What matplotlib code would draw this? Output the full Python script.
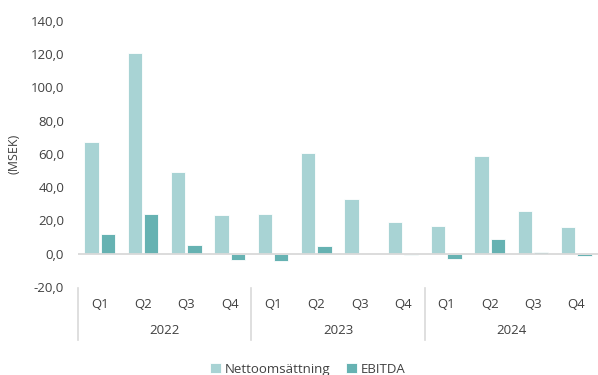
import matplotlib.pyplot as plt
import matplotlib.ticker as mticker
import numpy as np

years = ["2022", "2023", "2024"]
quarters = ["Q1", "Q2", "Q3", "Q4"]
nettoomsattning = [67.3, 120.7, 49.1, 23.2, 23.8, 60.8, 32.8, 19.0, 16.8, 58.9, 26.0, 15.8]
ebitda = [12.0, 23.8, 5.2, -3.6, -4.2, 4.8, 0.0, -0.6, -3.2, 9.0, 1.2, -1.6]

plt.rcParams['font.family'] = ['Open Sans', 'DejaVu Sans']
text_color = '#404040'
light = '#a8d3d4'
dark = '#66b2b2'

fig = plt.figure(figsize=(5.98, 3.75), dpi=100)
ax = fig.add_axes([0.1304, 0.2347, 0.8696, 0.7093])

n = len(nettoomsattning)
x = np.arange(n)
w = 0.33
ax.bar(x - 0.19, nettoomsattning, w, color=light, edgecolor='white', linewidth=0.6,
       label='Nettoomsättning', zorder=2)
ax.bar(x + 0.19, ebitda, w, color=dark, edgecolor='white', linewidth=0.6,
       label='EBITDA', zorder=2)
ax.axhline(0, color='#d9d9d9', lw=1.3, zorder=3)

ax.set_xlim(-0.5, n - 0.5)
ax.set_ylim(-20, 140)
ax.yaxis.set_major_locator(mticker.MultipleLocator(20))
ax.yaxis.set_major_formatter(mticker.FuncFormatter(lambda v, p: f"{v:.1f}".replace('.', ',')))
ax.tick_params(axis='y', length=0, pad=10, labelsize=9.5, labelcolor=text_color)
for s in ax.spines.values():
    s.set_visible(False)

# quarter labels under each group, year below, separators between years
ax.set_xticks(x)
ax.set_xticklabels(quarters * len(years))
ax.tick_params(axis='x', length=0, pad=8, labelsize=9.5, labelcolor=text_color)
trans = ax.get_xaxis_transform()
for i, yr in enumerate(years):
    ax.text(i * 4 + 1.5, -0.165, yr, transform=trans, ha='center', va='center',
            fontsize=9.5, color=text_color)
for b in range(len(years)):
    ax.plot([b * 4 - 0.5, b * 4 - 0.5], [-0.004, -0.2], transform=trans,
            color='#d9d9d9', lw=1.2, clip_on=False)

ax.set_ylabel('(MSEK)', fontsize=9, color=text_color)
ax.yaxis.set_label_coords(-0.11, 0.5)

fig.legend(loc='center', bbox_to_anchor=(0.515, 0.015), ncol=2, frameon=False,
           fontsize=9.5, handlelength=0.8, handleheight=0.8, handletextpad=0.3,
           columnspacing=1.2, labelcolor=text_color)

fig.savefig('out.png', dpi=100)
